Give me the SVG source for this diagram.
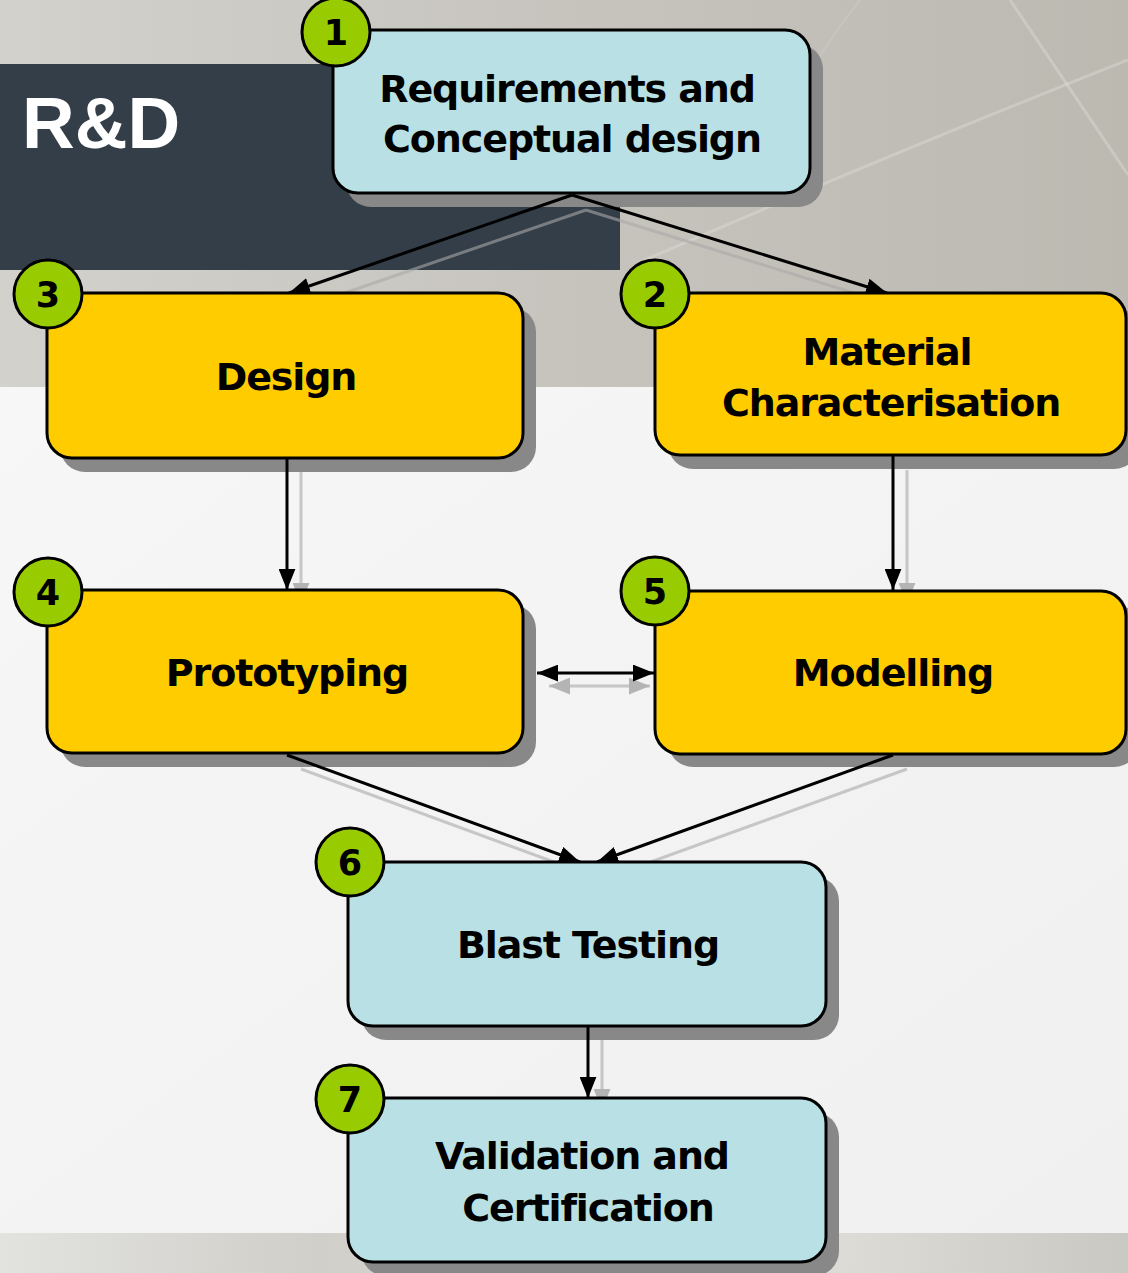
<svg xmlns="http://www.w3.org/2000/svg" width="1128" height="1273" viewBox="0 0 1128 1273">
  <defs>
    <linearGradient id="topBand" x1="0" y1="0" x2="1" y2="0">
      <stop offset="0" stop-color="#d2d1cc"/>
      <stop offset="0.5" stop-color="#c6c4bd"/>
      <stop offset="1" stop-color="#bcb9b1"/>
    </linearGradient>
    <linearGradient id="midBand" x1="0" y1="0" x2="1" y2="1">
      <stop offset="0" stop-color="#f7f7f7"/>
      <stop offset="0.5" stop-color="#f3f3f3"/>
      <stop offset="1" stop-color="#f0f0f0"/>
    </linearGradient>
    <linearGradient id="footBand" x1="0" y1="0" x2="1" y2="0">
      <stop offset="0" stop-color="#e2e2df"/>
      <stop offset="0.28" stop-color="#d0cfca"/>
      <stop offset="0.75" stop-color="#dcdbd6"/>
      <stop offset="1" stop-color="#cac8c2"/>
    </linearGradient>
    <marker id="arrow" viewBox="0 0 20 16" refX="20" refY="8" markerWidth="21" markerHeight="17" markerUnits="userSpaceOnUse" orient="auto-start-reverse">
      <path d="M0,0 L20,8 L0,16 Z" fill="#000"/>
    </marker>
    <marker id="arrowShade" viewBox="0 0 20 16" refX="20" refY="8" markerWidth="21" markerHeight="17" markerUnits="userSpaceOnUse" orient="auto-start-reverse">
      <path d="M0,0 L20,8 L0,16 Z" fill="#b4b4b4"/>
    </marker>
  </defs>
  <style>
    .box { stroke: #000; stroke-width: 3; }
    .blue { fill: #b9e0e4; }
    .gold { fill: #ffcc00; }
    .shade { fill: #888888; }
    .badge circle { fill: #99cc00; stroke: #000; stroke-width: 3; }
    .badge text { font-family: "DejaVu Sans", Verdana, sans-serif; font-weight: bold; font-size: 35px; fill: #000; text-anchor: middle; }
    .label { font-family: "DejaVu Sans", Verdana, sans-serif; font-weight: bold; font-size: 38px; letter-spacing: -1.1px; fill: #000; text-anchor: middle; }
    .link { stroke: #000; stroke-width: 3; fill: none; marker-end: url(#arrow); }
    .linkShade { stroke: #a8a8a8; stroke-opacity: 0.6; stroke-width: 3; fill: none; marker-end: url(#arrowShade); }
    .globe { stroke: #e6e4de; fill: none; }
  </style>

  <!-- backdrop -->
  <rect x="0" y="0" width="1128" height="387" fill="url(#topBand)"/>
  <path class="globe" d="M640,262 Q900,150 1128,60" stroke-width="3" opacity="0.35"/>
  <path class="globe" d="M1010,0 L1128,175" stroke-width="3" opacity="0.35"/>
  <path class="globe" d="M860,0 Q780,100 760,200" stroke-width="2" opacity="0.2"/>
  <rect x="0" y="387" width="1128" height="846" fill="url(#midBand)"/>
  <rect x="0" y="1233" width="1128" height="40" fill="url(#footBand)"/>
  <rect x="0" y="64" width="620" height="206" fill="#333e48"/>
  <text x="22" y="148" font-family="Liberation Sans, Arial, sans-serif" font-weight="bold" font-size="73" fill="#ffffff">R&amp;D</text>

  <!-- connector shadows -->
  <g id="connector-shadows">
    <line class="linkShade" x1="586" y1="210" x2="304" y2="307"/>
    <line class="linkShade" x1="586" y1="210" x2="899" y2="307"/>
    <line class="linkShade" x1="301" y1="470" x2="301" y2="604"/>
    <line class="linkShade" x1="907" y1="470" x2="907" y2="604"/>
    <line class="linkShade" x1="549" y1="686" x2="650" y2="686" marker-start="url(#arrowShade)"/>
    <line class="linkShade" x1="301" y1="769" x2="592" y2="876"/>
    <line class="linkShade" x1="907" y1="769" x2="612" y2="876"/>
    <line class="linkShade" x1="602" y1="1040" x2="602" y2="1110"/>
  </g>

  <!-- node drop shadows -->
  <g id="node-shadows">
    <rect class="shade" x="346" y="44" width="477" height="163" rx="25"/>
    <rect class="shade" x="60" y="307" width="476" height="165" rx="25"/>
    <rect class="shade" x="668" y="307" width="471" height="162" rx="25"/>
    <rect class="shade" x="60" y="604" width="476" height="163" rx="25"/>
    <rect class="shade" x="668" y="604" width="471" height="163" rx="25"/>
    <rect class="shade" x="361" y="876" width="478" height="164" rx="25"/>
    <rect class="shade" x="361" y="1112" width="478" height="164" rx="25"/>
  </g>

  <!-- connectors -->
  <g id="connectors">
    <line class="link" x1="572" y1="195" x2="289" y2="293"/>
    <line class="link" x1="572" y1="195" x2="887" y2="293"/>
    <line class="link" x1="287" y1="458" x2="287" y2="590"/>
    <line class="link" x1="893" y1="456" x2="893" y2="590"/>
    <line class="link" x1="537" y1="673" x2="654" y2="673" marker-start="url(#arrow)"/>
    <line class="link" x1="287" y1="755" x2="580" y2="862"/>
    <line class="link" x1="893" y1="755" x2="597" y2="862"/>
    <line class="link" x1="588" y1="1026" x2="588" y2="1098"/>
  </g>

  <!-- nodes -->
  <g id="node-1">
    <rect class="box blue" x="333" y="30" width="477" height="163" rx="25"/>
    <text class="label" x="567" y="102">Requirements and</text>
    <text class="label" x="572" y="152">Conceptual design</text>
    <g class="badge"><circle cx="336" cy="32" r="34"/><text x="336" y="45">1</text></g>
  </g>
  <g id="node-3">
    <rect class="box gold" x="47" y="293" width="476" height="165" rx="25"/>
    <text class="label" x="286" y="390">Design</text>
    <g class="badge"><circle cx="48" cy="294" r="34"/><text x="48" y="307">3</text></g>
  </g>
  <g id="node-2">
    <rect class="box gold" x="655" y="293" width="471" height="162" rx="25"/>
    <text class="label" x="887" y="365">Material</text>
    <text class="label" x="891" y="416">Characterisation</text>
    <g class="badge"><circle cx="655" cy="294" r="34"/><text x="655" y="307">2</text></g>
  </g>
  <g id="node-4">
    <rect class="box gold" x="47" y="590" width="476" height="163" rx="25"/>
    <text class="label" x="287" y="686">Prototyping</text>
    <g class="badge"><circle cx="48" cy="592" r="34"/><text x="48" y="605">4</text></g>
  </g>
  <g id="node-5">
    <rect class="box gold" x="655" y="591" width="471" height="163" rx="25"/>
    <text class="label" x="893" y="686">Modelling</text>
    <g class="badge"><circle cx="655" cy="591" r="34"/><text x="655" y="604">5</text></g>
  </g>
  <g id="node-6">
    <rect class="box blue" x="348" y="862" width="478" height="164" rx="25"/>
    <text class="label" x="588" y="958">Blast Testing</text>
    <g class="badge"><circle cx="350" cy="862" r="34"/><text x="350" y="875">6</text></g>
  </g>
  <g id="node-7">
    <rect class="box blue" x="348" y="1098" width="478" height="164" rx="25"/>
    <text class="label" x="582" y="1169">Validation and</text>
    <text class="label" x="588" y="1221">Certification</text>
    <g class="badge"><circle cx="350" cy="1099" r="34"/><text x="350" y="1112">7</text></g>
  </g>
</svg>
